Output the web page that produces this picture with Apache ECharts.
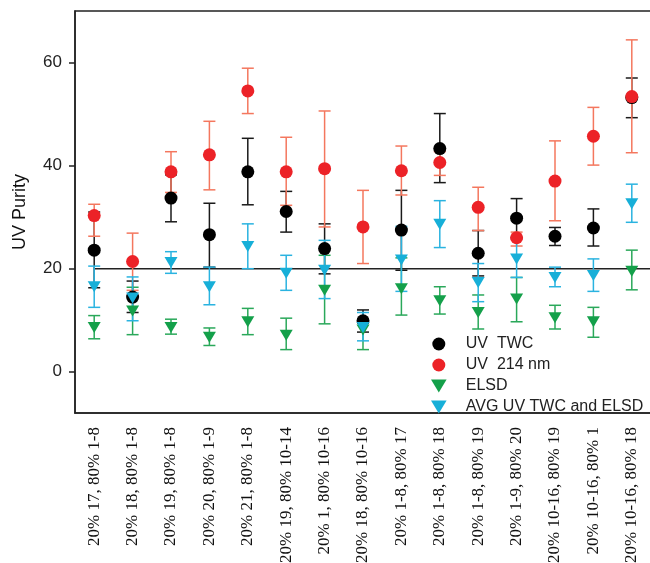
<!DOCTYPE html>
<html>
<head>
<meta charset="utf-8">
<script src="https://cdn.jsdelivr.net/npm/echarts@6/dist/echarts.min.js"></script>
<style>html,body{margin:0;padding:0;background:#fff}#c{width:650px;height:563px}</style>
</head>
<body>
<div id="c"></div>
<script>
const categories = ['20% 17, 80% 1-8','20% 18, 80% 1-8','20% 19, 80% 1-8','20% 20, 80% 1-9','20% 21, 80% 1-8','20% 19, 80% 10-14','20% 1, 80% 10-16','20% 18, 80% 10-16','20% 1-8, 80% 17','20% 1-8, 80% 18','20% 1-8, 80% 19','20% 1-9, 80% 20','20% 10-16, 80% 19','20% 10-16, 80% 1','20% 10-16, 80% 18'];
const yTicks = [0, 20, 40, 60];
const refLine = 20;

const twcVal  = [23.6,14.5,33.7,26.6,38.8,31.1,23.9, 9.9,27.5,43.3,23.0,29.8,26.3,27.9,53.2];
const twcLow  = [16.3,11.5,29.1,20.3,32.4,27.1,19.0, 7.7,19.7,36.7,18.6,26.1,24.5,24.4,49.3];
const twcHigh = [31.0,17.6,38.2,32.7,45.3,35.0,28.7,12.0,35.2,50.1,27.4,33.6,28.0,31.6,57.0];

const uvVal  = [30.3,21.4,38.8,42.1,54.5,38.8,39.4,28.1,39.0,40.6,31.9,26.0,37.0,45.7,53.4];
const uvLow  = [26.3,15.8,34.8,35.3,50.1,32.3,28.1,21.0,34.3,38.1,27.4,24.4,29.3,40.1,42.5];
const uvHigh = [32.5,26.9,42.7,48.6,58.9,45.5,50.6,35.2,43.8,42.7,35.8,27.1,44.8,51.3,64.4];

const elsdVal  = [ 8.6,11.8, 8.6, 6.7, 9.7, 7.1,15.8, 8.1,16.1,13.8,11.5,14.1,10.5, 9.7,19.5];
const elsdLow  = [ 6.4, 7.2, 7.3, 5.1, 7.2, 4.3, 9.3, 4.3,11.0,11.2, 8.3, 9.7, 8.3, 6.7,15.9];
const elsdHigh = [10.9,16.4,10.2, 8.5,12.3,10.4,22.6,10.2,22.1,16.5,14.9,18.3,12.9,12.5,23.6];

const avgVal  = [16.5,14.3,21.2,16.5,24.3,19.1,19.7, 8.6,21.7,28.6,17.3,21.9,18.3,18.7,32.6];
const avgLow  = [12.5, 9.9,19.1,13.0,20.0,15.8,14.2, 6.0,15.6,24.1,13.6,18.3,16.5,15.6,29.0];
const avgHigh = [20.5,18.4,23.3,20.3,28.7,22.6,25.5,11.5,28.2,33.2,21.0,25.8,20.3,21.9,36.4];

const names = ['UV  TWC', 'UV  214 nm', 'ELSD', 'AVG UV TWC and ELSD'];
const markerColors = ['#000000', '#ec2227', '#14a04a', '#17afd8'];
const barColors = ['#1a1a1a', '#f4775e', '#2aa85a', '#2ab3e0'];
const downTri = 'path://M0,0 L12,0 L6,10 Z';

function errSeries(name, low, high, color) {
  return {
    type: 'custom', name: name, z: 2,
    data: low.map((l, i) => [i, l, high[i]]),
    encode: { x: 0, y: [1, 2] },
    renderItem: function (params, api) {
      const x = api.value(0);
      const lo = api.coord([x, api.value(1)]);
      const hi = api.coord([x, api.value(2)]);
      const hw = 6;
      const style = { stroke: color, lineWidth: 1.5, fill: null };
      return { type: 'group', children: [
        { type: 'line', shape: { x1: lo[0], y1: lo[1], x2: hi[0], y2: hi[1] }, style: style },
        { type: 'line', shape: { x1: lo[0] - hw, y1: lo[1], x2: lo[0] + hw, y2: lo[1] }, style: style },
        { type: 'line', shape: { x1: hi[0] - hw, y1: hi[1], x2: hi[0] + hw, y2: hi[1] }, style: style }
      ]};
    }
  };
}

function scatter(name, vals, color, symbol, size) {
  return {
    type: 'scatter', name: name, z: 5,
    data: vals.map((v, i) => [i, v]),
    symbol: symbol, symbolSize: size,
    itemStyle: { color: color, opacity: 1 }
  };
}

const chart = echarts.init(document.getElementById('c'), null, { renderer: 'canvas' });
chart.setOption({
  animation: false,
  backgroundColor: '#ffffff',
  grid: { left: 75, top: 11, right: -1, bottom: 150, outerBoundsMode: 'none', containLabel: false, show: true, borderColor: '#222', borderWidth: 1.5, backgroundColor: 'transparent' },
  legend: {
    data: names.map((n, i) => ({ name: n, icon: i < 2 ? 'circle' : downTri })),
    orient: 'vertical', left: 426, top: 331, itemGap: 5,
    itemWidth: 44, itemHeight: 13,
    textStyle: { fontFamily: 'Liberation Sans, Arial', fontSize: 16, color: '#222' }
  },
  xAxis: {
    type: 'category', data: categories,
    axisLine: { onZero: false, lineStyle: { color: '#222', width: 1.5 } },
    axisTick: { alignWithLabel: true, length: 6, lineStyle: { color: '#222', width: 1.5 } },
    axisLabel: { rotate: 90, interval: 0, margin: 14, hideOverlap: false, fontFamily: 'Liberation Serif, Times New Roman', fontSize: 17, color: '#111' },
    splitLine: { show: false }
  },
  yAxis: {
    type: 'value', min: -8, max: 70,
    name: 'UV Purity', nameLocation: 'middle', nameGap: 46,
    nameTextStyle: { fontFamily: 'Liberation Sans, Arial', fontSize: 18, color: '#111' },
    axisLine: { show: true, lineStyle: { color: '#222', width: 1.5 } },
    axisTick: { show: true, length: 6, customValues: yTicks, lineStyle: { color: '#222', width: 1.5 } },
    axisLabel: { customValues: yTicks, margin: 13, fontFamily: 'Liberation Sans, Arial', fontSize: 17, color: '#222' },
    splitLine: { show: false }
  },
  series: [
    {
      type: 'custom', name: 'ref', z: 1,
      data: [[0, refLine]],
      encode: { x: 0, y: 1 },
      renderItem: function (params, api) {
        const p = api.coord([api.value(0), api.value(1)]);
        const cs = params.coordSys;
        return { type: 'line', shape: { x1: p[0], y1: p[1], x2: cs.x + cs.width, y2: p[1] }, style: { stroke: '#222', lineWidth: 1.5 } };
      }
    },
    errSeries('e-twc', twcLow, twcHigh, barColors[0]),
    errSeries('e-uv', uvLow, uvHigh, barColors[1]),
    errSeries('e-elsd', elsdLow, elsdHigh, barColors[2]),
    errSeries('e-avg', avgLow, avgHigh, barColors[3]),
    scatter(names[0], twcVal, markerColors[0], 'circle', 13),
    scatter(names[1], uvVal, markerColors[1], 'circle', 13),
    scatter(names[2], elsdVal, markerColors[2], downTri, [13, 11]),
    scatter(names[3], avgVal, markerColors[3], downTri, [13, 11])
  ]
});
</script>
</body>
</html>
